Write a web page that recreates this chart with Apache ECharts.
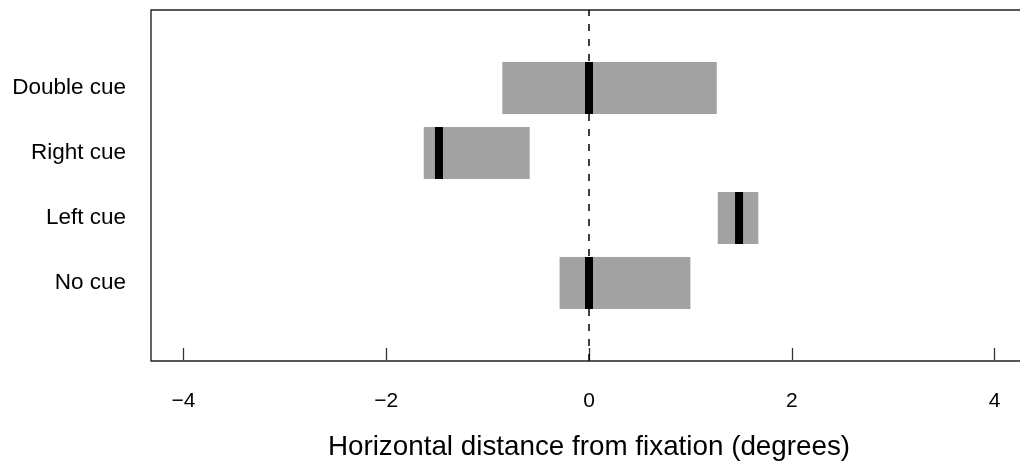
<!DOCTYPE html>
<html>
<head>
<meta charset="utf-8">
<script src="https://cdn.jsdelivr.net/npm/echarts@6/dist/echarts.min.js"></script>
<style>
html,body{margin:0;padding:0;background:#fff;overflow:hidden;width:1020px;height:462px;}
#chart{width:1040px;height:462px;}
</style>
</head>
<body>
<div id="chart"></div>
<script>
// Conditions (bottom to top) and their y positions
const categories = ['No cue', 'Left cue', 'Right cue', 'Double cue'];
const positions = [1, 2, 3, 4];
const lows = [-0.29, 1.27, -1.63, -0.855];
const medians = [0, 1.48, -1.48, 0];
const highs = [1.0, 1.67, -0.585, 1.26];
const xTicks = [-4, -2, 0, 2, 4];
const xTitle = 'Horizontal distance from fixation (degrees)';

const data = categories.map((c, i) => [positions[i], lows[i], medians[i], highs[i]]);
const FONT = 'Liberation Sans, Arial, Helvetica, sans-serif';

const chart = echarts.init(document.getElementById('chart'));
chart.setOption({
  animation: false,
  backgroundColor: '#fff',
  grid: {
    left: 151, top: 10, width: 876, height: 351,
    outerBoundsMode: 'none', containLabel: false,
    show: true, borderColor: '#222', borderWidth: 1.4, backgroundColor: 'transparent'
  },
  xAxis: {
    type: 'value', min: -4.32, max: 4.32,
    axisLine: { show: false },
    splitLine: { show: false },
    axisTick: { show: true, length: 12, customValues: xTicks, lineStyle: { color: '#333', width: 1.3 } },
    axisLabel: {
      customValues: xTicks, margin: 30,
      fontFamily: FONT, fontSize: 21, color: '#000',
      formatter: v => (v < 0 ? '\u2212' + Math.abs(v) : String(v))
    },
    name: xTitle, nameLocation: 'middle', nameGap: 72,
    nameTextStyle: { fontFamily: FONT, fontSize: 27.8, color: '#000' }
  },
  yAxis: {
    type: 'value', min: -0.2, max: 5.2,
    axisLine: { show: false }, axisTick: { show: false }, splitLine: { show: false },
    axisLabel: {
      customValues: positions, margin: 25,
      fontFamily: FONT, fontSize: 22.5, color: '#000',
      formatter: v => categories[positions.indexOf(Math.round(v))] || ''
    }
  },
  series: [
    {
      type: 'custom',
      data: data,
      encode: { x: [1, 2, 3], y: 0 },
      renderItem: function (params, api) {
        const y = api.value(0);
        const lo = api.coord([api.value(1), y + 0.4]);
        const hi = api.coord([api.value(3), y - 0.4]);
        const md = api.coord([api.value(2), y]);
        return {
          type: 'group',
          children: [
            { type: 'rect', shape: { x: lo[0], y: lo[1], width: hi[0] - lo[0], height: hi[1] - lo[1] },
              style: { fill: '#a2a2a2' } },
            { type: 'rect', shape: { x: md[0] - 4, y: lo[1], width: 8, height: hi[1] - lo[1] },
              style: { fill: '#000' } }
          ]
        };
      },
      markLine: {
        silent: true, symbol: 'none',
        label: { show: false },
        lineStyle: { color: '#000', type: [7, 8], width: 1.5 },
        data: [{ xAxis: 0 }]
      },
      z: 2
    }
  ]
});
</script>
</body>
</html>
